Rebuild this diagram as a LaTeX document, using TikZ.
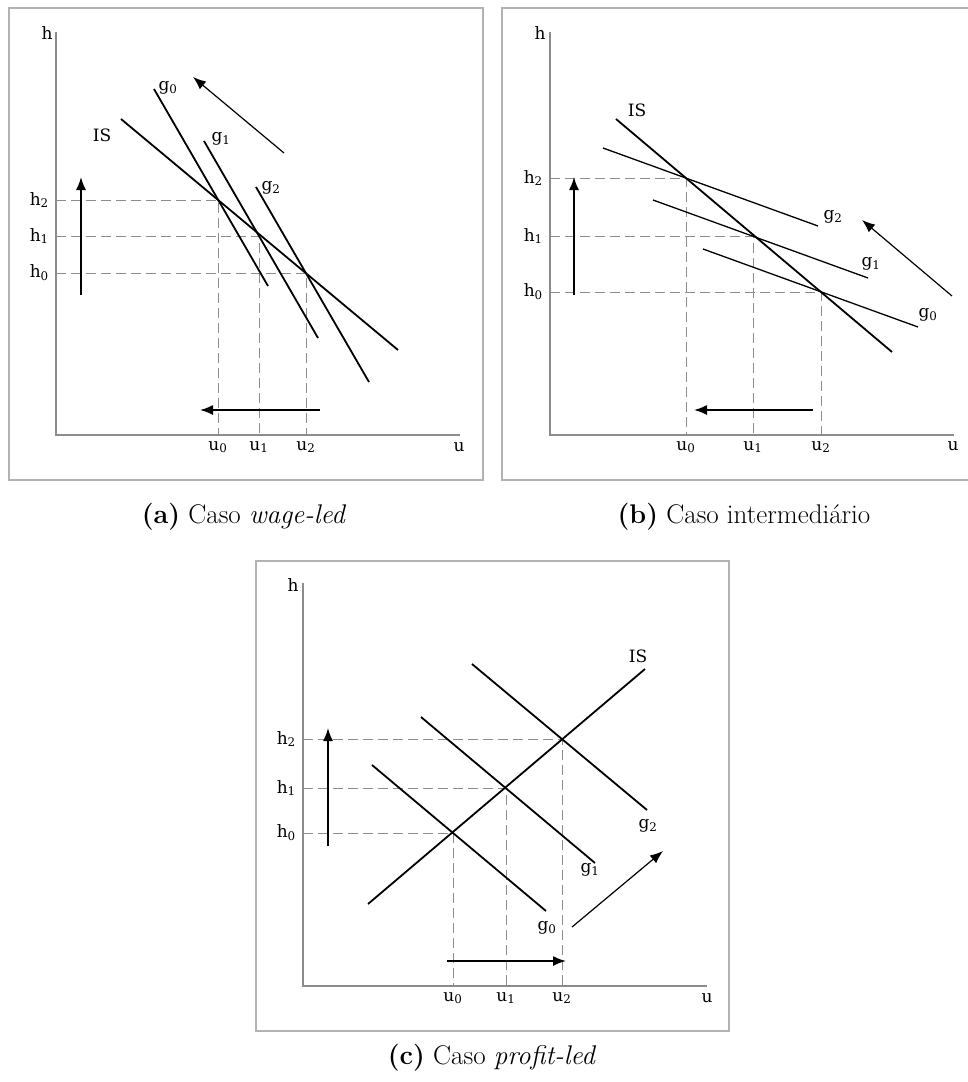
\documentclass[tikz,border=0pt]{standalone}
\usepackage{amsmath,amssymb}
\usepackage{fontspec}
\newfontfamily\plotfont{DejaVu Serif}
\usetikzlibrary{positioning,calc,arrows.meta}

\begin{document}
\begin{tikzpicture}[x=1pt, y=-1pt, every node/.style={font=\plotfont\fontsize{17}{19}\selectfont, inner sep=1pt}, frame/.style={draw=black!30, line width=1.3pt}, axis/.style={draw=black!45, line width=1.1pt}, curve/.style={line width=1.8pt}, guide/.style={draw=black!45, line width=0.9pt, dash pattern=on 10pt off 5pt}, arr/.style={-{Latex[length=13pt,width=10pt]}, line width=1.6pt}, tilt/.style={-{Latex[length=13pt,width=10pt]}, line width=1.2pt}, subcap/.style={font=\rmfamily\fontsize{27}{30}\selectfont}]
    \useasboundingbox (0,0) rectangle (967,1082);

    % (a) wage-led
    \draw[frame] (9,8) rectangle (483,480);
    \coordinate (aO) at (56,435);
    \coordinate (aP0) at (218,200);
    \coordinate (aP1) at (259,236);
    \coordinate (aP2) at (306,273);
    \draw[axis] (56,32) -- (aO) -- (460,435);
    \foreach \p in {aP0,aP1,aP2} \draw[guide] (aO|-\p) -- (\p) -- (\p|-aO);
    \draw[curve] (121,119) -- (398,350);
    \draw[curve] (154,89) -- (268,286);
    \draw[curve] (204,141) -- (318,338);
    \draw[curve] (256,187) -- (369,382);
    \node at (47,33) {h};
    \node at (459,447) {u};
    \node[left=6pt] at (aO|-aP0) {h\textsubscript{2}};
    \node[left=6pt] at (aO|-aP1) {h\textsubscript{1}};
    \node[left=6pt] at (aO|-aP2) {h\textsubscript{0}};
    \node[below=5pt] at (aP0|-aO) {u\textsubscript{0}};
    \node[below=5pt] at (aP1|-aO) {u\textsubscript{1}};
    \node[below=5pt] at (aP2|-aO) {u\textsubscript{2}};
    \node at (102,135) {IS};
    \node at (168,88) {g\textsubscript{0}};
    \node at (221,139) {g\textsubscript{1}};
    \node at (271,188) {g\textsubscript{2}};
    \draw[arr] (81,295) -- (81,177);
    \draw[arr] (320,410) -- (200,410);
    \draw[tilt] (284,153) -- (193,77);
    \node[subcap] at (244,517) {\textbf{(a)} Caso \textit{wage-led}};

    % (b) intermediario
    \draw[frame] (968,8) -- (502,8) -- (502,480) -- (968,480);
    \coordinate (bO) at (550,435);
    \coordinate (bP2) at (686,178);
    \coordinate (bP1) at (753,236);
    \coordinate (bP0) at (821,292);
    \draw[axis] (550,32) -- (bO) -- (954,435);
    \foreach \p in {bP0,bP1,bP2} \draw[guide] (bO|-\p) -- (\p) -- (\p|-bO);
    \draw[curve] (616,119) -- (892,352);
    \draw[line width=1.3pt] (603,148) -- (818,226);
    \draw[line width=1.3pt] (653,200) -- (868,278);
    \draw[line width=1.3pt] (703,249) -- (918,327);
    \node at (540,33) {h};
    \node at (953,446) {u};
    \node[left=6pt] at (bO|-bP2) {h\textsubscript{2}};
    \node[left=6pt] at (bO|-bP1) {h\textsubscript{1}};
    \node[left=6pt] at (bO|-bP0) {h\textsubscript{0}};
    \node[below=5pt] at (bP2|-bO) {u\textsubscript{0}};
    \node[below=5pt] at (bP1|-bO) {u\textsubscript{1}};
    \node[below=5pt] at (bP0|-bO) {u\textsubscript{2}};
    \node at (637,110) {IS};
    \node at (833,217) {g\textsubscript{2}};
    \node at (871,264) {g\textsubscript{1}};
    \node at (928,315) {g\textsubscript{0}};
    \draw[arr] (574,295) -- (574,177);
    \draw[arr] (813,410) -- (694,410);
    \draw[tilt] (952,296) -- (862,220);
    \node[subcap] at (744,517) {\textbf{(b)} Caso intermedi\'ario};

    % (c) profit-led
    \draw[frame] (256,561) rectangle (729,1031);
    \coordinate (cO) at (303,986);
    \coordinate (cP0) at (453,833);
    \coordinate (cP1) at (506,788);
    \coordinate (cP2) at (562,739);
    \draw[axis] (303,583) -- (cO) -- (707,986);
    \foreach \p in {cP0,cP1,cP2} \draw[guide] (cO|-\p) -- (\p) -- (\p|-cO);
    \draw[curve] (368,904) -- (645,669);
    \draw[curve] (372,765) -- (546,911);
    \draw[curve] (421,717) -- (595,863);
    \draw[curve] (472,664) -- (647,810);
    \node at (293,585) {h};
    \node at (707,998) {u};
    \node[left=6pt] at (cO|-cP2) {h\textsubscript{2}};
    \node[left=6pt] at (cO|-cP1) {h\textsubscript{1}};
    \node[left=6pt] at (cO|-cP0) {h\textsubscript{0}};
    \node[below=5pt] at (cP0|-cO) {u\textsubscript{0}};
    \node[below=5pt] at (cP1|-cO) {u\textsubscript{1}};
    \node[below=5pt] at (cP2|-cO) {u\textsubscript{2}};
    \node at (638,656) {IS};
    \node at (648,826) {g\textsubscript{2}};
    \node at (590,870) {g\textsubscript{1}};
    \node at (547,928) {g\textsubscript{0}};
    \draw[arr] (328,846) -- (328,728);
    \draw[arr] (447,961) -- (566,961);
    \draw[tilt] (572,927) -- (663,851);
    \node[subcap] at (492,1058) {\textbf{(c)} Caso \textit{profit-led}};
  \end{tikzpicture}
\end{document}
